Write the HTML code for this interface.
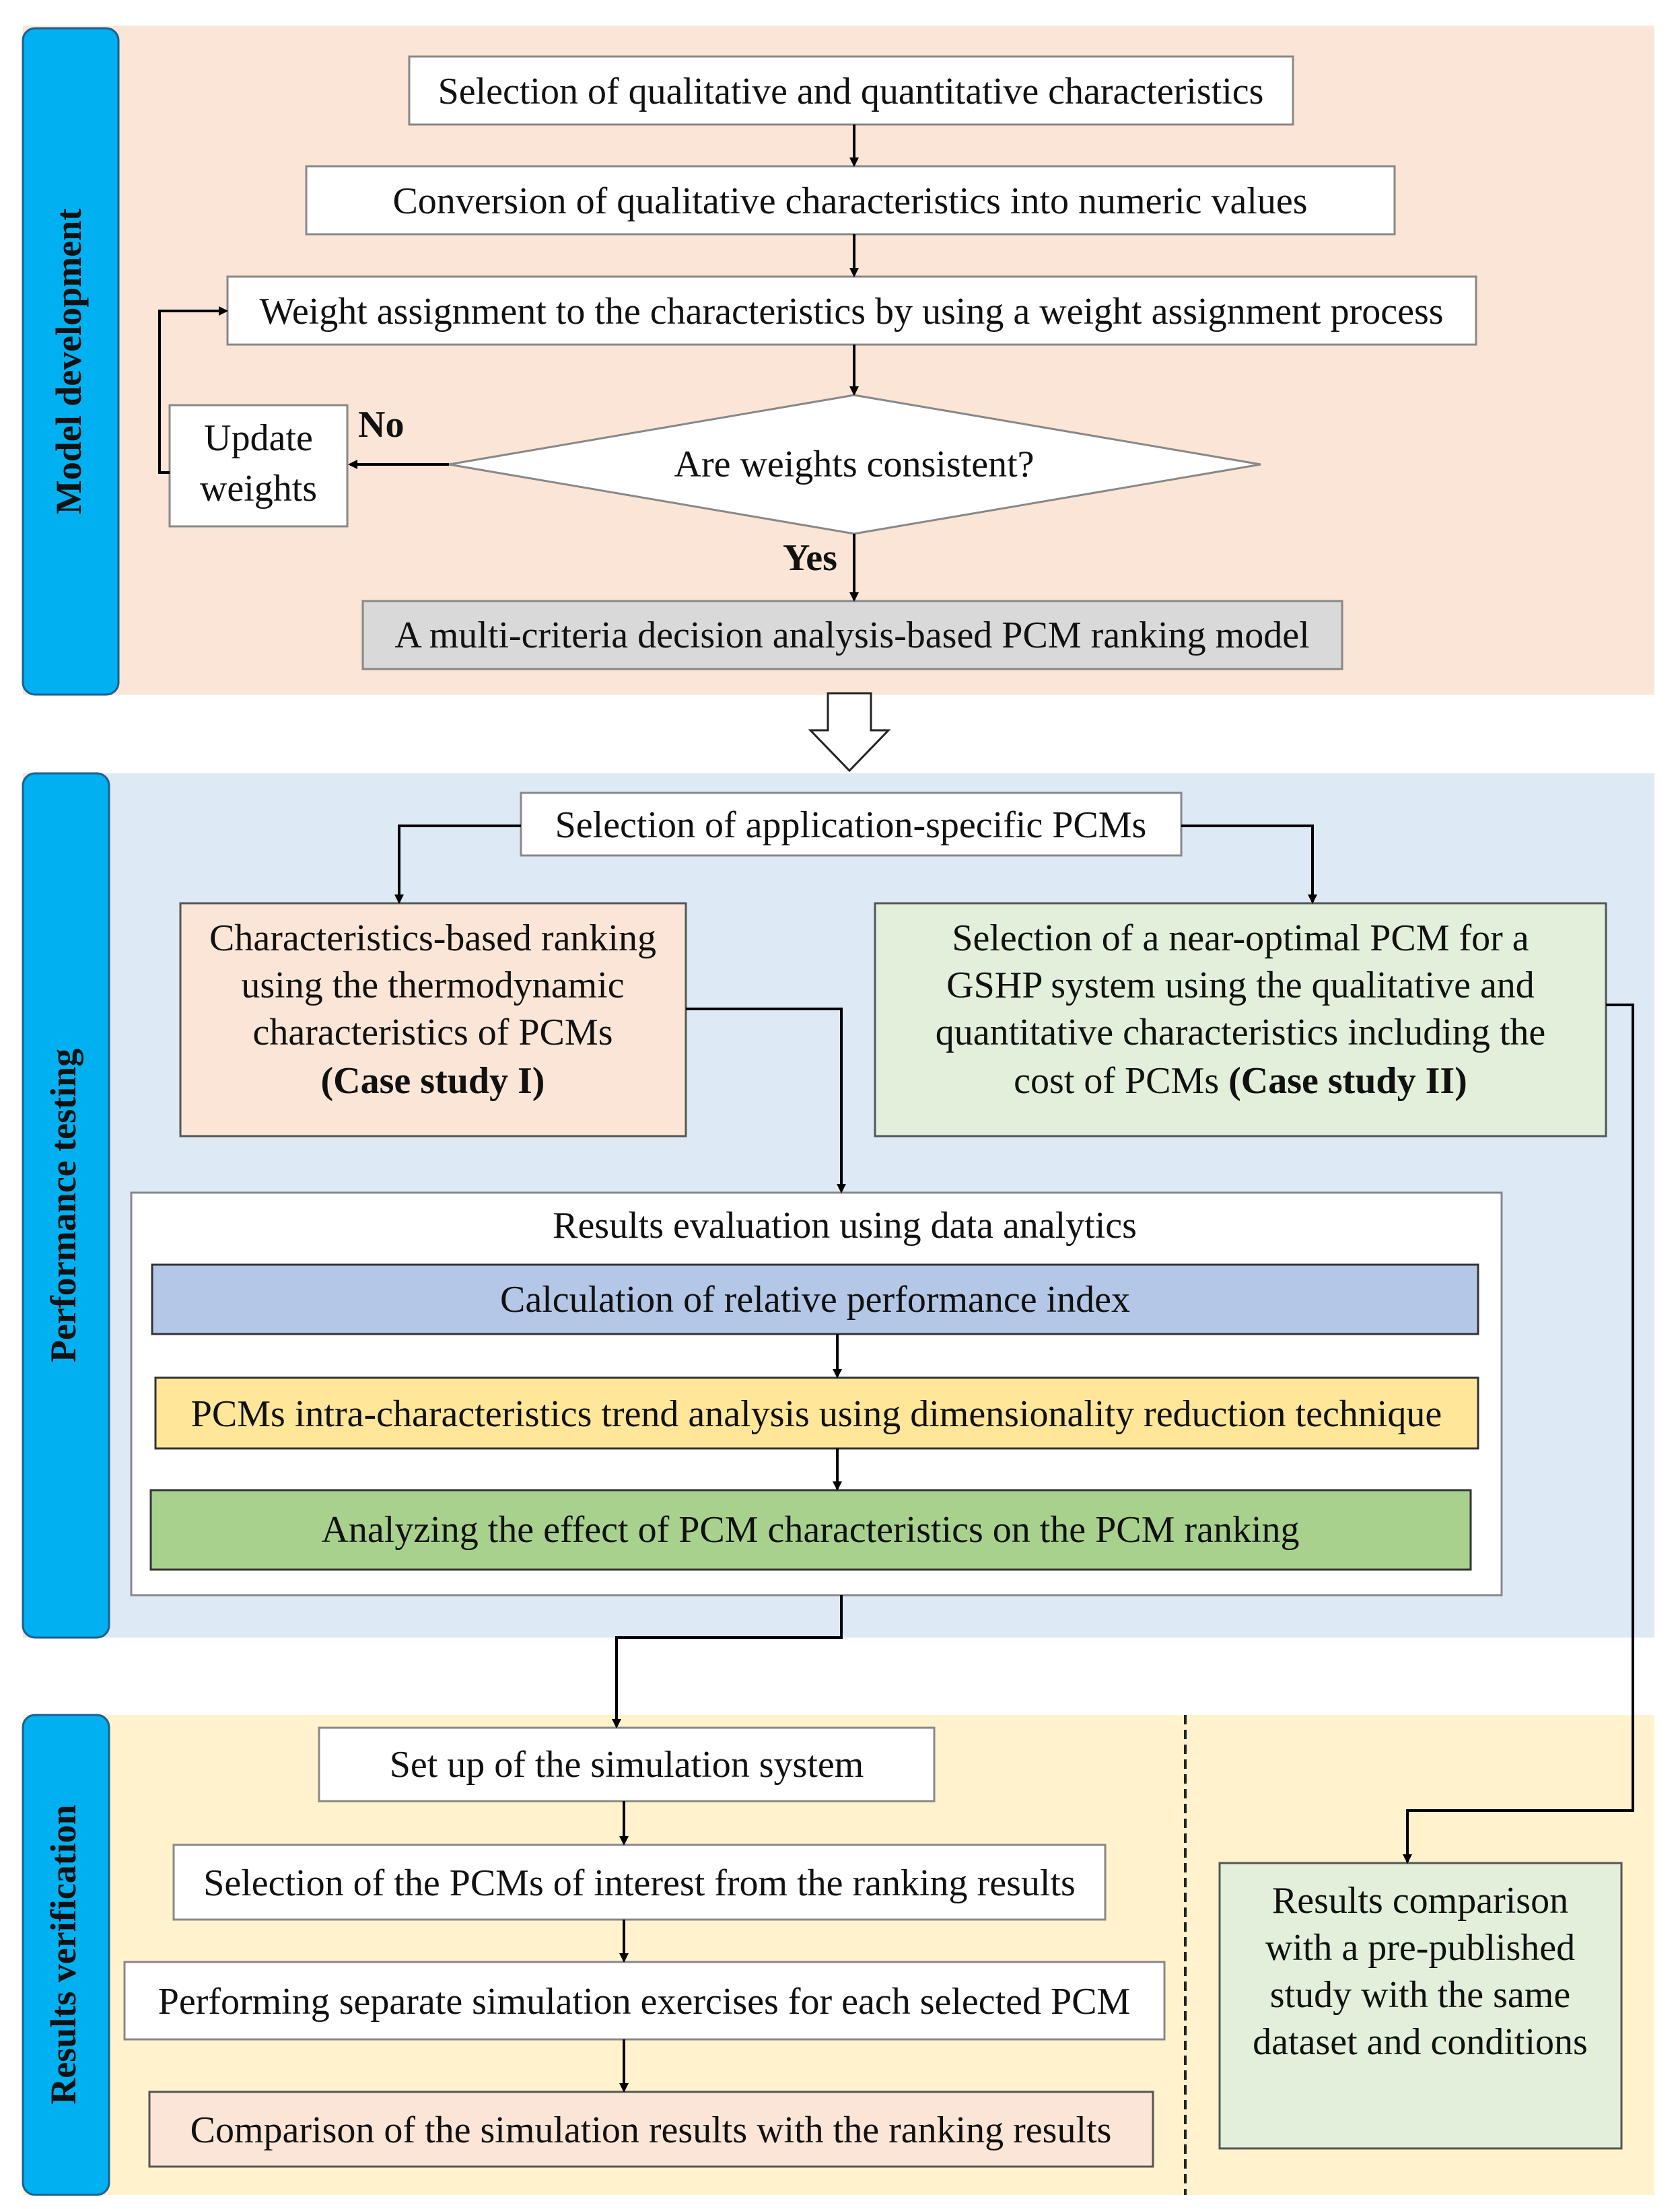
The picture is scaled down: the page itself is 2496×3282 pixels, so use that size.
<!DOCTYPE html>
<html><head><meta charset="utf-8"><style>
html,body{margin:0;padding:0;background:#fff}
svg{display:block}
text{font-family:"Liberation Serif",serif;fill:#111}
</style></head><body>
<svg width="2496" height="3282" viewBox="0 0 2496 3282" xmlns="http://www.w3.org/2000/svg">
<defs>
<marker id="a" markerWidth="14" markerHeight="14" refX="11" refY="7" orient="auto" markerUnits="userSpaceOnUse" viewBox="0 0 14 14"><path d="M0,0 L14,7 L0,14 z" fill="#000"/></marker>
</defs>
<g font-size="56">
<rect x="34" y="38" width="2424" height="994" fill="#fbe5d6"/>
<rect x="34" y="1149" width="2424" height="1284" fill="#dde9f5"/>
<rect x="34" y="2548" width="2424" height="713" fill="#fff2cc"/>
<rect x="34" y="42" width="142" height="990" rx="18" fill="#00b0f0" stroke="#1f5f8f" stroke-width="3"/>
<rect x="34" y="1149" width="128" height="1284" rx="18" fill="#00b0f0" stroke="#1f5f8f" stroke-width="3"/>
<rect x="34" y="2548" width="128" height="713" rx="18" fill="#00b0f0" stroke="#1f5f8f" stroke-width="3"/>
<text transform="translate(120,537) rotate(-90)" text-anchor="middle" font-weight="bold" font-size="54">Model development</text>
<text transform="translate(112,1791) rotate(-90)" text-anchor="middle" font-weight="bold" font-size="54">Performance testing</text>
<text transform="translate(112,2904) rotate(-90)" text-anchor="middle" font-weight="bold" font-size="54">Results verification</text>

<g stroke="#888" stroke-width="3">
<rect x="608" y="84" width="1313" height="101" fill="#fff"/>
<rect x="455" y="247" width="1617" height="101" fill="#fff"/>
<rect x="338" y="411" width="1855" height="101" fill="#fff"/>
<polygon points="667,690 1269,587 1873,690 1269,793" fill="#fff"/>
<rect x="252" y="602" width="264" height="180" fill="#fff"/>
<rect x="539" y="893" width="1455" height="101" fill="#d9d9d9"/>
<rect x="774" y="1178" width="981" height="93" fill="#fff"/>
<rect x="268" y="1342" width="751" height="346" fill="#fbe5d6" stroke="#555"/>
<rect x="1300" y="1342" width="1086" height="346" fill="#e2efda" stroke="#555"/>
<rect x="195" y="1772" width="2036" height="598" fill="#fff"/>
<rect x="226" y="1879" width="1970" height="103" fill="#b4c7e7" stroke="#333"/>
<rect x="231" y="2047" width="1965" height="105" fill="#ffe699" stroke="#333"/>
<rect x="224" y="2214" width="1961" height="118" fill="#a9d18e" stroke="#333"/>
<rect x="474" y="2567" width="914" height="109" fill="#fff"/>
<rect x="258" y="2741" width="1384" height="111" fill="#fff"/>
<rect x="185" y="2915" width="1545" height="115" fill="#fff"/>
<rect x="222" y="3108" width="1491" height="111" fill="#fbe5d6" stroke="#555"/>
<rect x="1812" y="2768" width="597" height="424" fill="#e2efda" stroke="#555"/>
</g>
<line x1="1761" y1="2548" x2="1761" y2="3261" stroke="#222" stroke-width="4" stroke-dasharray="14,8"/>
<path d="M1230,1030 L1294,1030 L1294,1085 L1320,1085 L1262,1145 L1204,1085 L1230,1085 Z" fill="#fff" stroke="#222" stroke-width="3"/>

<g stroke="#000" stroke-width="4" fill="none" marker-end="url(#a)">
<line x1="1269" y1="185" x2="1269" y2="245"/>
<line x1="1269" y1="348" x2="1269" y2="409"/>
<line x1="1269" y1="512" x2="1269" y2="585"/>
<line x1="1269" y1="793" x2="1269" y2="891"/>
<line x1="667" y1="690" x2="520" y2="690"/>
<polyline points="252,702 237,702 237,462 336,462"/>
<polyline points="774,1227 593,1227 593,1340"/>
<polyline points="1755,1227 1950,1227 1950,1340"/>
<polyline points="1019,1499 1250,1499 1250,1770"/>
<polyline points="2386,1493 2426,1493 2426,2690 2091,2690 2091,2766"/>
<polyline points="1250,2370 1250,2433 916,2433 916,2565"/>
<line x1="1244" y1="1982" x2="1244" y2="2045"/>
<line x1="1244" y1="2152" x2="1244" y2="2212"/>
<line x1="927" y1="2676" x2="927" y2="2739"/>
<line x1="927" y1="2852" x2="927" y2="2913"/>
<line x1="927" y1="3030" x2="927" y2="3106"/>
</g>

<g text-anchor="middle">
<text x="1264" y="154">Selection of qualitative and quantitative characteristics</text>
<text x="1263" y="317">Conversion of qualitative characteristics into numeric values</text>
<text x="1265" y="481">Weight assignment to the characteristics by using a weight assignment process</text>
<text x="1269" y="708">Are weights consistent?</text>
<text x="384" y="669">Update</text>
<text x="384" y="744">weights</text>
<text x="1266" y="962">A multi-criteria decision analysis-based PCM ranking model</text>
<text x="1264" y="1244">Selection of application-specific PCMs</text>
<text x="643" y="1412">Characteristics-based ranking</text>
<text x="643" y="1482">using the thermodynamic</text>
<text x="643" y="1552">characteristics of PCMs</text>
<text x="643" y="1624" font-weight="bold">(Case study I)</text>
<text x="1843" y="1412">Selection of a near-optimal PCM for a</text>
<text x="1843" y="1482">GSHP system using the qualitative and</text>
<text x="1843" y="1552">quantitative characteristics including the</text>
<text x="1843" y="1624">cost of PCMs <tspan font-weight="bold">(Case study II)</tspan></text>
<text x="1255" y="1839">Results evaluation using data analytics</text>
<text x="1211" y="1949">Calculation of relative performance index</text>
<text x="1213" y="2119">PCMs intra-characteristics trend analysis using dimensionality reduction technique</text>
<text x="1204" y="2291">Analyzing the effect of PCM characteristics on the PCM ranking</text>
<text x="931" y="2640">Set up of the simulation system</text>
<text x="950" y="2816">Selection of the PCMs of interest from the ranking results</text>
<text x="957" y="2992">Performing separate simulation exercises for each selected PCM</text>
<text x="967" y="3183">Comparison of the simulation results with the ranking results</text>
<text x="2110" y="2842">Results comparison</text>
<text x="2110" y="2912">with a pre-published</text>
<text x="2110" y="2982">study with the same</text>
<text x="2110" y="3052">dataset and conditions</text>
</g>
<text x="532" y="649" font-weight="bold">No</text>
<text x="1163" y="847" font-weight="bold">Yes</text>
</g>
</svg>
</body></html>
